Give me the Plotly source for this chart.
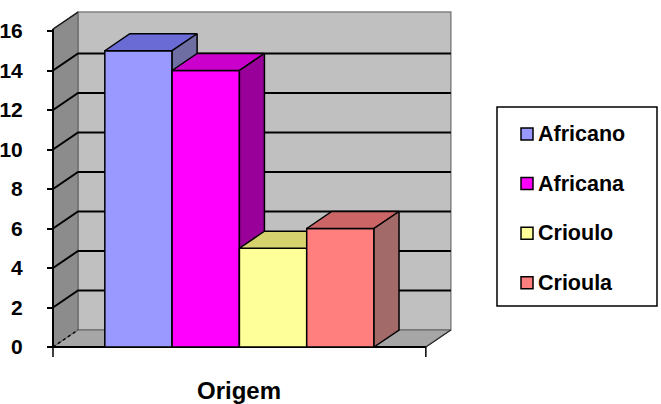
import plotly.graph_objects as go

# ---------------- data ----------------
categories = ["Africano", "Africana", "Crioulo", "Crioula"]
values = [15, 14, 5, 6]
axis_label = "Origem"
y_ticks = [0, 2, 4, 6, 8, 10, 12, 14, 16]

front_colors = ["#9999FF", "#FF00FF", "#FFFF99", "#FF7F7F"]
top_colors = ["#6B6BD6", "#CC00CC", "#D6D26E", "#CC6666"]
side_colors = ["#6E6EA3", "#990099", "#A3A36E", "#A36A6A"]

# ---------------- geometry (layout) ----------------
W, H = 661, 404
L, R, T, B = 38, 460, 5, 362          # plot area in pixels
UX = 67.3                              # px per category unit
UY = 19.75                             # px per value unit
ZERO_PX = 347                          # pixel row of value 0
AXIS_PX = 53                           # pixel column of the front value axis

GAP = 0.77                             # side gap (category units)
DX = 25 / UX                           # depth offset in x units
DY = 17 / UY                           # depth offset in value units
YMAX = y_ticks[-1]

n = len(categories)
left_x = -0.5 - GAP
right_x = n - 0.5 + GAP
x_lo = left_x - (AXIS_PX - L) / UX
x_hi = x_lo + (R - L) / UX
y_lo = -(B - ZERO_PX) / UY
y_hi = (ZERO_PX - T) / UY


def px_x(px):
    return (px - L) / (R - L)


def px_y(py):
    return (B - py) / (B - T)


fig = go.Figure()


def poly(xs, ys, fill, line="black", width=1.5, dash="solid"):
    fig.add_trace(go.Scatter(
        x=list(xs) + [xs[0]], y=list(ys) + [ys[0]], mode="lines",
        fill="toself" if fill else None, fillcolor=fill,
        line=dict(color=line, width=width, dash=dash),
        hoverinfo="skip", showlegend=False))


def path(xs, ys, color="black", width=2, dash="solid"):
    fig.add_trace(go.Scatter(
        x=xs, y=ys, mode="lines", line=dict(color=color, width=width, dash=dash),
        hoverinfo="skip", showlegend=False))


# walls
poly([left_x + DX, right_x + DX, right_x + DX, left_x + DX],
     [DY, DY, YMAX + DY + 0.1, YMAX + DY + 0.1], "#C0C0C0", line="#808080", width=1.5)
poly([left_x, left_x + DX, left_x + DX, left_x],
     [0, DY, YMAX + DY + 0.1, YMAX + 0.1], "#8C8C8C", line="#606060", width=1)
poly([left_x, right_x, right_x + DX, left_x + DX],
     [0, 0, DY, DY], "#A6A6A6", line="#606060", width=1)

# gridlines
for v in y_ticks[1:-1]:
    path([left_x, left_x + DX, right_x + DX], [v, v + DY, v + DY], width=2)
path([left_x, left_x + DX], [YMAX + 0.1, YMAX + DY + 0.1], color="#202020", width=1.5)

# floor edges
path([left_x, left_x + DX], [0, DY], width=1.5, dash="dot")
path([right_x, right_x + DX], [0, DY], color="#303030", width=1.5)

# front axes
path([left_x, left_x], [0, YMAX + 0.1], width=2)
path([left_x, right_x], [0, 0], width=2)
path([left_x, left_x], [0, -0.5], width=1.5)
path([right_x, right_x], [0, -0.5], width=1.5)

# bars (3D boxes)
for i, v in enumerate(values):
    x0, x1 = i - 0.5, i + 0.5
    poly([x0, x1, x1, x0], [0, 0, v, v], front_colors[i])
    poly([x0, x1, x1 + DX, x0 + DX], [v, v, v + DY, v + DY], top_colors[i])
    poly([x1, x1 + DX, x1 + DX, x1], [0, DY, v + DY, v], side_colors[i])

FONT = "Liberation Sans, Arial, sans-serif"

annotations = [dict(
    x=(n - 1) / 2, xref="x", y=px_y(390), yref="paper",
    text=axis_label, showarrow=False, xanchor="center", yanchor="middle",
    font=dict(family=FONT, size=24, color="black", weight="bold"))]

shapes = [dict(type="rect", xref="paper", yref="paper",
               x0=px_x(497), x1=px_x(657), y0=px_y(306), y1=px_y(107),
               line=dict(color="black", width=1.5), fillcolor="white")]

row0, row_gap = 134, 49.6
for i, name in enumerate(categories):
    cy = row0 + i * row_gap
    shapes.append(dict(type="rect", xref="paper", yref="paper",
                       x0=px_x(521), x1=px_x(533), y0=px_y(cy + 6), y1=px_y(cy - 6),
                       line=dict(color="black", width=1.5), fillcolor=front_colors[i]))
    annotations.append(dict(
        x=px_x(536), xref="paper", y=px_y(cy), yref="paper", text=name,
        showarrow=False, xanchor="left", yanchor="middle",
        font=dict(family=FONT, size=21.5, color="black", weight="bold")))

fig.update_layout(
    width=W, height=H, autosize=False,
    margin=dict(l=L, r=W - R, t=T, b=H - B, pad=0, autoexpand=False),
    paper_bgcolor="white", plot_bgcolor="white",
    showlegend=False,
    xaxis=dict(range=[x_lo, x_hi], visible=False, fixedrange=True, automargin=False),
    yaxis=dict(range=[y_lo, y_hi], tickvals=y_ticks, showgrid=False, zeroline=False,
               showline=False, ticks="outside", ticklen=6, tickwidth=1.5, tickcolor="black",
               anchor="free", position=px_x(AXIS_PX), ticklabelstandoff=20,
               automargin=False,
               tickfont=dict(family=FONT, size=21, color="black", weight="bold"),
               fixedrange=True),
    annotations=annotations, shapes=shapes,
)

fig.write_html("out.html", config={"displayModeBar": False})
